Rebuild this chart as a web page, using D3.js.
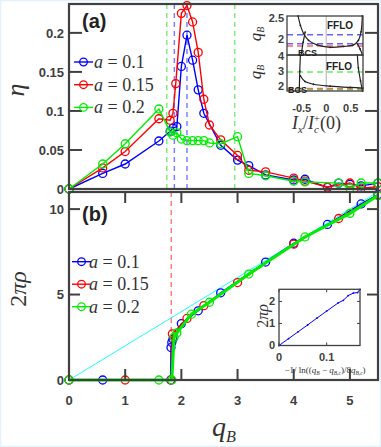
<!DOCTYPE html>
<html>
<head>
<meta charset="utf-8">
<script src="https://cdn.jsdelivr.net/npm/d3@7"></script>
<style>
body{margin:0;background:#fff}
text{font-family:"Liberation Sans",Arial,sans-serif}
.tk{font-weight:bold;fill:#404040;font-size:13px}
.tks{font-weight:bold;fill:#404040;font-size:11px}
.serif{font-family:"Liberation Serif","DejaVu Serif",serif;fill:#333}
</style>
</head>
<body>
<script>
// panel (a): eta vs qB
var etaBlue = [[0,0],[0.6,0.02],[1,0.032],[1.6,0.0615],[1.8,0.074],[1.85,0.078],[1.92,0.08],[2,0.157],[2.1,0.197],[2.2,0.165],[2.3,0.127],[2.4,0.097],[2.7,0.056],[3,0.037],[3.2,0.03],[3.5,0.018],[4,0.0115],[4.2,0.0125],[4.6,0.002],[4.8,0.0075],[5,0.006],[5.2,0.004],[5.5,0.0075]];
var etaRed = [[0,0],[0.6,0.027],[1,0.048],[1.6,0.09],[1.8,0.088],[1.85,0.097],[1.9,0.135],[2,0.225],[2.1,0.235],[2.2,0.214],[2.3,0.175],[2.4,0.115],[2.5,0.082],[2.7,0.063],[3,0.043],[3.2,0.024],[3.5,0.022],[4,0.014],[4.2,0.01],[4.6,0.0025],[5,0.0077],[5.2,0.001],[5.5,0.003]];
var etaGreen = [[0,0],[0.6,0.032],[1,0.058],[1.6,0.1025],[1.8,0.073],[1.85,0.069],[1.92,0.072],[2,0.064],[2.1,0.062],[2.2,0.062],[2.3,0.062],[2.4,0.062],[2.5,0.059],[2.7,0.058],[3,0.067],[3.2,0.02],[3.5,0.017],[4,0.01],[4.2,0.009],[4.8,0.0075],[5,0.001],[5.2,0.0077],[5.5,0.0077]];

// panel (b): 2*pi*rho vs qB
var rhoBlue = [[0,0],[0.6,0],[1.81,0],[1.815,1.9],[1.83,2.2],[1.85,2.4],[2,3.3],[2.3,4.05],[2.7,5.1],[3.5,6.9],[4,8],[4.6,9.1],[5.2,10.3],[5.5,10.85]];
var rhoRed = [[0,0],[1,0],[1.82,0],[1.84,2.7],[2.1,3.6],[2.4,4.35],[3,5.7],[4,7.95],[4.8,9.45],[5.5,10.8]];
var rhoGreen = [[0,0],[1.6,0],[1.83,0],[1.87,2.5],[1.92,2.75],[2.18,3.85],[2.5,4.55],[3.2,6.2],[4.2,8.37],[5,9.75],[5.5,10.8]];
var rhoRef = [[0,0],[5.5,11]];

var legendLabels = ["0.1","0.15","0.2"];
var colors = ["#0000ff","#ff0000","#00ee00"];

// dashed markers (qB values)
var dashA = [[1.74,"#00dd00"],[1.875,"#0000ff"],[2.1,"#0000ff"],[2.95,"#00dd00"]];
var dashB = [[1.82,"#ff0000"]];

// inset (a): phase boundaries, Ix/Ic vs qB
var upperDash = [[2.1,"#0000ff"],[1.875,"#0000ff"],[1.82,"#ff0000"]];
var lowerDash = [[2.95,"#00dd00"],[1.74,"#00dd00"],[1.82,"#ff0000"]];
var upperCurves = [
  [[-0.574,2.56],[-0.527,2.33],[-0.46,2.125],[-0.36,1.96],[-0.19,1.85],[0.08,1.79],[0.35,1.81],[0.555,1.85],[0.655,1.96],[0.71,2.17],[0.736,2.56]],
  [[-0.43,2.165],[-0.47,1.915],[-0.51,1.6]],
  [[0.635,1.875],[0.69,1.75],[0.74,1.6]]
];
var lowerCurves = [
  [[-0.527,4.1],[-0.54,3.0],[-0.55,1.65]],
  [[-0.527,2.67],[-0.43,2.29],[-0.26,2.11],[0.08,1.98],[0.49,1.89],[0.75,1.85]],
  [[0.635,4.1],[0.655,3.23],[0.7,2.33],[0.74,1.65]]
];

// inset (b)
var insetB = [[0,0],[0.02,0.31],[0.04,0.62],[0.06,0.93],[0.08,1.25],[0.1,1.56],[0.124,1.93],[0.135,2.05],[0.145,2.26],[0.156,2.38],[0.165,2.4],[0.17,2.55]];

var W = 381, H = 447;
var svg = d3.select("body").append("svg").attr("width", W).attr("height", H);
svg.append("rect").attr("x",0.5).attr("y",0.5).attr("width",W-1).attr("height",H-1)
   .attr("fill","#fff").attr("stroke","#e4f3fa").attr("stroke-width",1.5);

var L = 69, R = 378;
var x = d3.scaleLinear().domain([0,5.5]).range([L,R]);
var yA = d3.scaleLinear().domain([0,0.237]).range([189,4]);
var yB = d3.scaleLinear().domain([0,11]).range([380,192]);

var frameCol = "#404040";

function ticksY(g, scale, vals, x0, x1, len, cls, fmt){
  vals.forEach(function(v){
    var yy = scale(v);
    g.append("line").attr("x1",x0).attr("x2",x0+len).attr("y1",yy).attr("y2",yy).attr("stroke",frameCol).attr("stroke-width",2);
    g.append("line").attr("x1",x1).attr("x2",x1-len).attr("y1",yy).attr("y2",yy).attr("stroke",frameCol).attr("stroke-width",2);
    if (cls) g.append("text").attr("class",cls).attr("x",x0-5).attr("y",yy).attr("dy","0.36em").attr("text-anchor","end").text(fmt(v));
  });
}
function ticksX(g, scale, vals, y0, y1, len, cls, fmt){
  vals.forEach(function(v){
    var xx = scale(v);
    g.append("line").attr("x1",xx).attr("x2",xx).attr("y1",y0).attr("y2",y0-len).attr("stroke",frameCol).attr("stroke-width",2);
    g.append("line").attr("x1",xx).attr("x2",xx).attr("y1",y1).attr("y2",y1+len).attr("stroke",frameCol).attr("stroke-width",2);
    if (cls) g.append("text").attr("class",cls).attr("x",xx).attr("y",y0+25).attr("text-anchor","middle").text(fmt(v));
  });
}

function series(g, data, xs, ys, col, lw, r){
  g.append("path").datum(data)
    .attr("d", d3.line().x(function(d){return xs(d[0]);}).y(function(d){return ys(d[1]);}))
    .attr("fill","none").attr("stroke",col).attr("stroke-width",lw);
  g.selectAll(null).data(data).enter().append("circle")
    .attr("cx",function(d){return xs(d[0]);}).attr("cy",function(d){return ys(d[1]);})
    .attr("r",r).attr("fill","none").attr("stroke",col).attr("stroke-width",1.3);
}

// ---------- panel (a)
var ga = svg.append("g");
dashA.forEach(function(d){
  ga.append("line").attr("x1",x(d[0])).attr("x2",x(d[0])).attr("y1",yA.range()[1]).attr("y2",yA.range()[0])
    .attr("stroke",d[1]).attr("stroke-opacity",0.5).attr("stroke-width",1.5).attr("stroke-dasharray","5,4");
});
ga.append("line").attr("x1",L).attr("x2",R).attr("y1",yA(0)).attr("y2",yA(0)).attr("stroke","#999").attr("stroke-width",1.5);
[etaBlue, etaRed, etaGreen].forEach(function(s,i){ series(ga, s, x, yA, colors[i], 1.4, 4); });
ga.append("rect").attr("x",L).attr("y",4).attr("width",R-L).attr("height",185)
  .attr("fill","none").attr("stroke",frameCol).attr("stroke-width",2.2);
ticksY(ga, yA, [0,0.05,0.1,0.15,0.2], L, R, 13, "tk", function(v){return v===0?"0":String(v);});
ga.append("text").attr("x",82).attr("y",28).attr("font-size",20).attr("font-weight","bold").attr("fill","#222").text("(a)");

// legend
function legend(g, x0, y0, dy, xt){
  legendLabels.forEach(function(lab,i){
    var yy = y0 + i*dy;
    g.append("line").attr("x1",x0).attr("x2",x0+19).attr("y1",yy).attr("y2",yy).attr("stroke",colors[i]).attr("stroke-width",1.4);
    g.append("circle").attr("cx",x0+9.5).attr("cy",yy).attr("r",3.8).attr("fill","none").attr("stroke",colors[i]).attr("stroke-width",1.3);
    var t = g.append("text").attr("class","serif").attr("x",xt).attr("y",yy+6).attr("font-size",18);
    t.append("tspan").attr("font-style","italic").text("a");
    t.append("tspan").text(" = " + lab);
  });
}
legend(ga, 74, 62, 22.7, 94);

// inset (a)
var xi = d3.scaleLinear().domain([-0.8,0.75]).range([287,363]);
var yiu = d3.scaleLinear().domain([1.6,2.56]).range([55,16]);
var yil = d3.scaleLinear().domain([1.65,4.1]).range([91,55]);
var gi = svg.append("g");
gi.append("rect").attr("x",287).attr("y",16).attr("width",76).attr("height",75).attr("fill","#fff");
gi.append("line").attr("x1",xi(0)).attr("x2",xi(0)).attr("y1",16).attr("y2",91).attr("stroke","#999").attr("stroke-width",0.8);
function insetDash(arr, ys){
  arr.forEach(function(d){
    gi.append("line").attr("x1",287).attr("x2",363).attr("y1",ys(d[0])).attr("y2",ys(d[0]))
      .attr("stroke",d[1]).attr("stroke-opacity",0.6).attr("stroke-width",1.5).attr("stroke-dasharray","6,4");
  });
}
insetDash(upperDash, yiu);
insetDash(lowerDash, yil);
function curves(arr, ys, curve){
  arr.forEach(function(c){
    gi.append("path").datum(c).attr("d", d3.line().curve(curve).x(function(d){return xi(d[0]);}).y(function(d){return ys(d[1]);}))
      .attr("fill","none").attr("stroke","#222").attr("stroke-width",1.2);
    gi.selectAll(null).data(c).enter().append("circle").attr("cx",function(d){return xi(d[0]);}).attr("cy",function(d){return ys(d[1]);})
      .attr("r",0.9).attr("fill","#222");
  });
}
curves([upperCurves[0]], yiu, d3.curveCatmullRom);
curves(upperCurves.slice(1), yiu, d3.curveMonotoneY);
curves([lowerCurves[0], lowerCurves[2]], yil, d3.curveMonotoneY);
curves([lowerCurves[1]], yil, d3.curveCatmullRom);
gi.append("rect").attr("x",287).attr("y",16).attr("width",76).attr("height",39).attr("fill","none").attr("stroke",frameCol).attr("stroke-width",1.3);
gi.append("rect").attr("x",287).attr("y",55).attr("width",76).attr("height",36).attr("fill","none").attr("stroke",frameCol).attr("stroke-width",1.3);
[[2.5,"2.5"],[2,"2"]].forEach(function(d){
  gi.append("text").attr("class","tks").attr("x",284).attr("y",yiu(d[0])).attr("dy","0.36em").attr("text-anchor","end").text(d[1]);
});
[[4,"4"],[3,"3"],[2,"2"]].forEach(function(d){
  gi.append("text").attr("class","tks").attr("x",284).attr("y",yil(d[0])).attr("dy","0.36em").attr("text-anchor","end").text(d[1]);
});
[[-0.5,"-0.5"],[0,"0"],[0.5,"0.5"]].forEach(function(d){
  gi.append("text").attr("class","tks").attr("x",xi(d[0])).attr("y",112).attr("text-anchor","middle").text(d[1]);
});
gi.append("text").attr("x",340).attr("y",29).attr("font-size",10).attr("font-weight","bold").attr("fill","#222").attr("text-anchor","middle").text("FFLO");
gi.append("text").attr("x",339).attr("y",70).attr("font-size",10).attr("font-weight","bold").attr("fill","#222").attr("text-anchor","middle").text("FFLO");
gi.append("text").attr("x",298).attr("y",56).attr("font-size",9).attr("font-weight","bold").attr("fill","#222").text("BCS");
gi.append("text").attr("x",288).attr("y",93).attr("font-size",9).attr("font-weight","bold").attr("fill","#222").text("BCS");
function qBlabel(g, cx, cy, fs, rot){
  var t = g.append("text").attr("class","serif").attr("font-size",fs).attr("text-anchor","middle")
    .attr("transform","translate("+cx+","+cy+")"+(rot?" rotate(-90)":""));
  t.append("tspan").attr("font-style","italic").text("q");
  t.append("tspan").attr("font-style","italic").attr("font-size",fs*0.58).attr("dy",fs*0.2).text("B");
}
qBlabel(gi, 261, 34, 17, true);
qBlabel(gi, 261, 72, 17, true);
var lx = gi.append("text").attr("class","serif").attr("x",292).attr("y",129).attr("font-size",18);
lx.append("tspan").attr("font-style","italic").text("I");
lx.append("tspan").attr("font-style","italic").attr("font-size",11).attr("dy",4).text("x");
lx.append("tspan").attr("dy",-4).text("/");
lx.append("tspan").attr("font-style","italic").text("I");
lx.append("tspan").attr("font-style","italic").attr("font-size",11).attr("dy",4).text("c");
lx.append("tspan").attr("font-size",11).attr("dx",-5).attr("dy",-11).text("+");
lx.append("tspan").attr("dy",7).text("(0)");

// ---------- panel (b)
var gb = svg.append("g");
dashB.forEach(function(d){
  gb.append("line").attr("x1",x(d[0])).attr("x2",x(d[0])).attr("y1",192).attr("y2",380)
    .attr("stroke",d[1]).attr("stroke-opacity",0.5).attr("stroke-width",1.5).attr("stroke-dasharray","5,4");
});
gb.append("path").datum(rhoRef).attr("d", d3.line().x(function(d){return x(d[0]);}).y(function(d){return yB(d[1]);}))
  .attr("stroke","#00ffff").attr("stroke-width",0.9).attr("fill","none");
series(gb, rhoBlue, x, yB, colors[0], 1.4, 4);
series(gb, rhoRed, x, yB, colors[1], 1.4, 4);
series(gb, rhoGreen, x, yB, colors[2], 3, 4);
gb.append("rect").attr("x",L).attr("y",192).attr("width",R-L).attr("height",188)
  .attr("fill","none").attr("stroke",frameCol).attr("stroke-width",2.2);
ticksY(gb, yB, [0,5,10], L, R, 11, "tk", String);
ticksX(gb, x, [0,1,2,3,4,5], 380, 192, 11, "tk", String);
gb.append("text").attr("x",82).attr("y",221).attr("font-size",20).attr("font-weight","bold").attr("fill","#222").text("(b)");
legend(gb, 72, 261.7, 22.5, 89);

// inset (b)
var xj = d3.scaleLinear().domain([0,0.17]).range([279,360]);
var yj = d3.scaleLinear().domain([0,2.55]).range([345.5,289.3]);
var gj = svg.append("g");
gj.append("rect").attr("x",279).attr("y",289.3).attr("width",81).attr("height",56.2).attr("fill","#fff");
gj.append("path").datum(insetB).attr("d", d3.line().x(function(d){return xj(d[0]);}).y(function(d){return yj(d[1]);}))
  .attr("fill","none").attr("stroke","#0000ff").attr("stroke-width",1);
gj.selectAll(null).data(insetB).enter().append("circle").attr("cx",function(d){return xj(d[0]);}).attr("cy",function(d){return yj(d[1]);})
  .attr("r",0.9).attr("fill","#0000ff");
gj.append("rect").attr("x",279).attr("y",289.3).attr("width",81).attr("height",56.2).attr("fill","none").attr("stroke",frameCol).attr("stroke-width",1.3);
[0,1,2].forEach(function(v){
  gj.append("line").attr("x1",279).attr("x2",282).attr("y1",yj(v)).attr("y2",yj(v)).attr("stroke",frameCol);
  gj.append("line").attr("x1",360).attr("x2",357).attr("y1",yj(v)).attr("y2",yj(v)).attr("stroke",frameCol);
  gj.append("text").attr("class","tks").attr("x",275).attr("y",yj(v)).attr("dy","0.36em").attr("text-anchor","end").text(String(v));
});
[[0,"0"],[0.1,"0.1"]].forEach(function(d){
  gj.append("line").attr("x1",xj(d[0])).attr("x2",xj(d[0])).attr("y1",345.5).attr("y2",342.5).attr("stroke",frameCol);
  gj.append("line").attr("x1",xj(d[0])).attr("x2",xj(d[0])).attr("y1",289.3).attr("y2",292.3).attr("stroke",frameCol);
  gj.append("text").attr("class","tks").attr("x",xj(d[0])).attr("y",361).attr("text-anchor","middle").text(d[1]);
});
var ry = gj.append("text").attr("class","serif").attr("font-size",16).attr("text-anchor","middle").attr("transform","translate(268,316) rotate(-90)");
ry.append("tspan").text("2");
ry.append("tspan").attr("font-style","italic").text("πρ");
var bx = gj.append("text").attr("class","serif").attr("x",325).attr("y",373).attr("font-size",9).attr("text-anchor","middle");
bx.append("tspan").text("\u22121/ ln((");
bx.append("tspan").attr("font-style","italic").text("q");
bx.append("tspan").attr("font-style","italic").attr("font-size",5.5).attr("dy",1.5).text("B");
bx.append("tspan").attr("dy",-1.5).text(" \u2212 ");
bx.append("tspan").attr("font-style","italic").text("q");
bx.append("tspan").attr("font-style","italic").attr("font-size",5.5).attr("dy",1.5).text("B,c");
bx.append("tspan").attr("dy",-1.5).text(")/8");
bx.append("tspan").attr("font-style","italic").text("q");
bx.append("tspan").attr("font-style","italic").attr("font-size",5.5).attr("dy",1.5).text("B,c");
bx.append("tspan").attr("dy",-1.5).text(")");

// ---------- axis titles
svg.append("text").attr("class","serif").attr("font-size",26).attr("font-style","italic").attr("text-anchor","middle")
  .attr("transform","translate(24,90) rotate(-90)").text("η");
var yt = svg.append("text").attr("class","serif").attr("font-size",24).attr("text-anchor","middle").attr("transform","translate(26,289) rotate(-90)");
yt.append("tspan").text("2");
yt.append("tspan").attr("font-style","italic").text("πρ");
qBlabel(svg, 224, 436, 28, false);
</script>
</body>
</html>
